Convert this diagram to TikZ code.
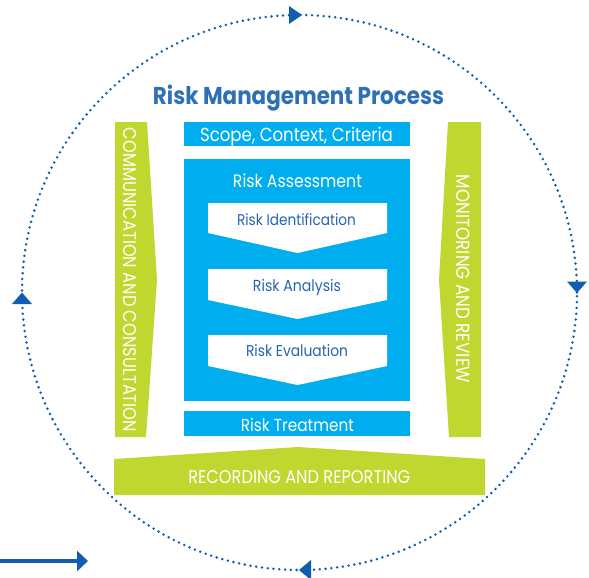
\documentclass[tikz,border=0pt]{standalone}
\usepackage{fontspec}
\setmainfont{Poppins}[FakeStretch=0.88]
\usepackage{graphicx}
\usetikzlibrary{arrows.meta}
\definecolor{rmcyan}{RGB}{0,174,239}
\definecolor{rmgreen}{RGB}{192,215,48}
\definecolor{rmtitle}{RGB}{45,112,182}
\definecolor{rmtext}{RGB}{38,100,176}
\definecolor{rmdot}{RGB}{16,94,177}
\newcommand\fitw[2]{\resizebox{#1}{!}{#2}}
\begin{document}
\begin{tikzpicture}[x=1pt,y=-1pt,
  lbl/.style={inner sep=0pt, anchor=base},
  whitelbl/.style={lbl, text=white},
  bluelbl/.style={lbl, text=rmtext},
  cyanbox/.style={fill=rmcyan, draw=none},
  greenbox/.style={fill=rmgreen, draw=none},
  chev/.style={fill=white, draw=none},
  ring/.style={draw=rmdot, line width=2.8pt, line cap=round, dash pattern=on 0pt off 5.8pt},
  ringtip/.style={fill=rmdot, draw=none}]
\useasboundingbox (0,0) rectangle (589,578);

% dotted cycle
\coordinate (ctr) at (299.5,292.5);
\draw[ring] (ctr) circle (277.5pt);
\fill[ringtip] (302,15) -- (289,6) -- (289,24) -- cycle;
\fill[ringtip] (577,293) -- (567,281.5) -- (587,281.5) -- cycle;
\fill[ringtip] (299,570) -- (311,560) -- (311,580) -- cycle;
\fill[ringtip] (22,292.5) -- (12,304) -- (32,304) -- cycle;

% incoming arrow
\coordinate (inA) at (0,561);
\coordinate (inB) at (88,561);
\draw[draw=rmdot, line width=3.5pt, -{Triangle[length=11pt,width=20pt]}] (inA) -- (inB);

% title
\node[lbl, text=rmtitle] (title) at (298.5,105) {\fitw{291pt}{\bfseries Risk Management Process}};

% cyan boxes
\fill[cyanbox] (184,122) rectangle (410,146);
\node[whitelbl] (scope) at (296.5,141) {\fitw{193pt}{Scope, Context, Criteria}};

\fill[cyanbox] (184,159) rectangle (410,401);
\node[whitelbl] (assess) at (297.5,187.3) {\fitw{129pt}{Risk Assessment}};

\fill[chev] (208,203) -- (387,203) -- (387,233) -- (297.5,253) -- (208,233) -- cycle;
\node[bluelbl] (ident) at (296.5,225) {\fitw{119pt}{Risk Identification}};

\fill[chev] (208,269) -- (387,269) -- (387,300) -- (297.5,319) -- (208,300) -- cycle;
\node[bluelbl] (analysis) at (297,291.7) {\fitw{88pt}{Risk Analysis}};

\fill[chev] (208,335) -- (387,335) -- (387,366) -- (297.5,385) -- (208,366) -- cycle;
\node[bluelbl] (evaluation) at (297,356.7) {\fitw{102pt}{Risk Evaluation}};

\fill[cyanbox] (184,411) rectangle (410,436);
\node[whitelbl] (treat) at (297.4,431.7) {\fitw{113pt}{Risk Treatment}};

% green bars
\fill[greenbox] (115,122) -- (147,122) -- (157,280) -- (146,437) -- (115,437) -- cycle;
\node[whitelbl, anchor=center, rotate=-90] (comm) at (129.5,280) {\fitw{304pt}{COMMUNICATION AND CONSULTATION}};

\fill[greenbox] (448,122) -- (481,122) -- (481,437) -- (449,437) -- (439,280) -- cycle;
\node[whitelbl, anchor=center, rotate=-90] (monitor) at (463,279) {\fitw{208pt}{MONITORING AND REVIEW}};

\fill[greenbox] (114,459) -- (298,447) -- (485,459) -- (485,495) -- (114,495) -- cycle;
\node[whitelbl] (record) at (299.3,483.3) {\fitw{222pt}{RECORDING AND REPORTING}};
\end{tikzpicture}
\end{document}
